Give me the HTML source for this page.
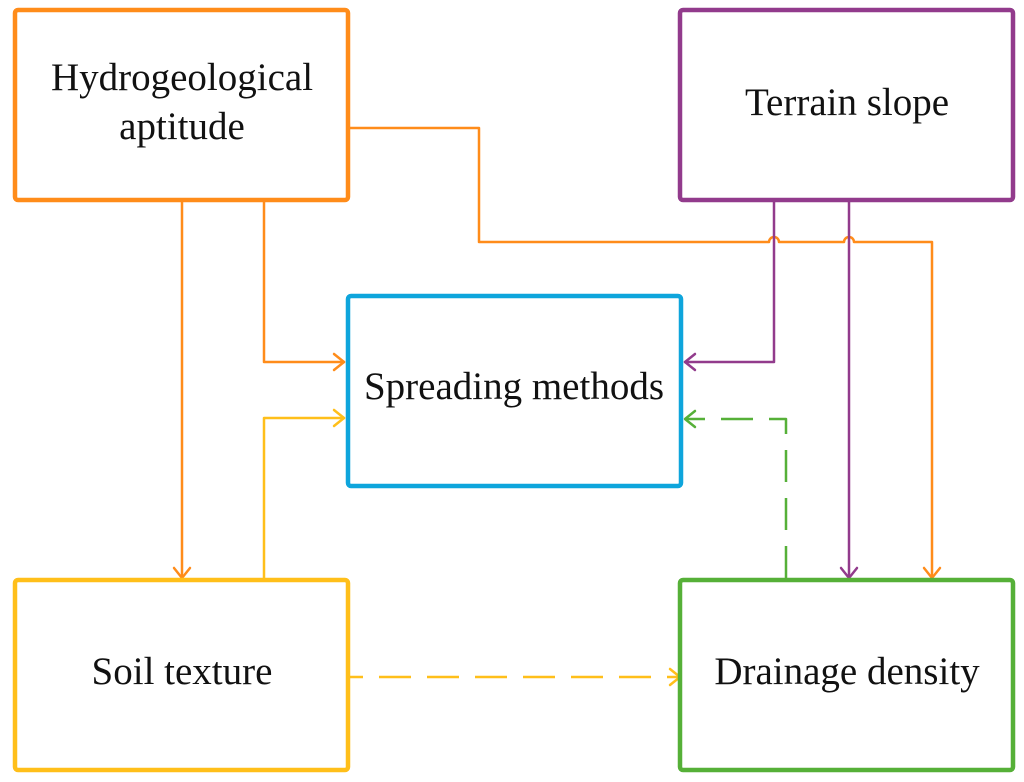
<!DOCTYPE html>
<html><head><meta charset="utf-8"><style>
html,body{margin:0;padding:0;background:#fff}
svg{display:block}
text{font-family:"Liberation Serif",serif;font-size:39px;fill:#111;text-anchor:middle}
</style></head><body>
<svg width="1024" height="782" viewBox="0 0 1024 782" xmlns="http://www.w3.org/2000/svg">
<g fill="none" stroke-width="2.5" stroke-linejoin="round" stroke-linecap="round">
  <path d="M182 202 V578" stroke="#ff8c1a"/>
  <path d="M174 568 L182 578 L190 568" stroke="#ff8c1a"/>
  <path d="M264 202 V362 H344" stroke="#ff8c1a"/>
  <path d="M334 354 L344 362 L334 370" stroke="#ff8c1a"/>
  <path d="M350 128 H479 V242 H769 a5 5 0 0 1 10 0 H844 a5 5 0 0 1 10 0 H932 V578" stroke="#ff8c1a"/>
  <path d="M924 568 L932 578 L940 568" stroke="#ff8c1a"/>
  <path d="M774 202 V362 H685" stroke="#923b8c"/>
  <path d="M695 354 L685 362 L695 370" stroke="#923b8c"/>
  <path d="M849 202 V578" stroke="#923b8c"/>
  <path d="M841 568 L849 578 L857 568" stroke="#923b8c"/>
  <path d="M264 578 V418 H344" stroke="#ffbf1a"/>
  <path d="M334 410 L344 418 L334 426" stroke="#ffbf1a"/>
  <path d="M350 677 H680" stroke="#ffbf1a" stroke-dasharray="32 16" stroke-dashoffset="19" stroke-linecap="butt"/>
  <path d="M670 669 L680 677 L670 685" stroke="#ffbf1a"/>
  <path d="M786 578 V419 H685" stroke="#56b038" stroke-dasharray="32 16" stroke-linecap="butt"/>
  <path d="M695 411 L685 419 L695 427" stroke="#56b038"/>
</g>
<g fill="none" stroke-width="4.5">
  <rect x="15" y="10" width="333" height="190" rx="3" stroke="#ff8c1a"/>
  <rect x="680" y="10" width="333" height="190" rx="3" stroke="#923b8c"/>
  <rect x="348" y="296" width="333" height="190" rx="3" stroke="#0ea5dc"/>
  <rect x="15" y="580" width="333" height="190" rx="3" stroke="#ffbf1a"/>
  <rect x="680" y="580" width="333" height="190" rx="3" stroke="#56b038"/>
</g>
<text x="182" y="90">Hydrogeological</text>
<text x="182" y="139">aptitude</text>
<text x="847" y="115">Terrain slope</text>
<text x="514" y="399">Spreading methods</text>
<text x="182" y="684">Soil texture</text>
<text x="847" y="684">Drainage density</text>
</svg>
</body></html>
